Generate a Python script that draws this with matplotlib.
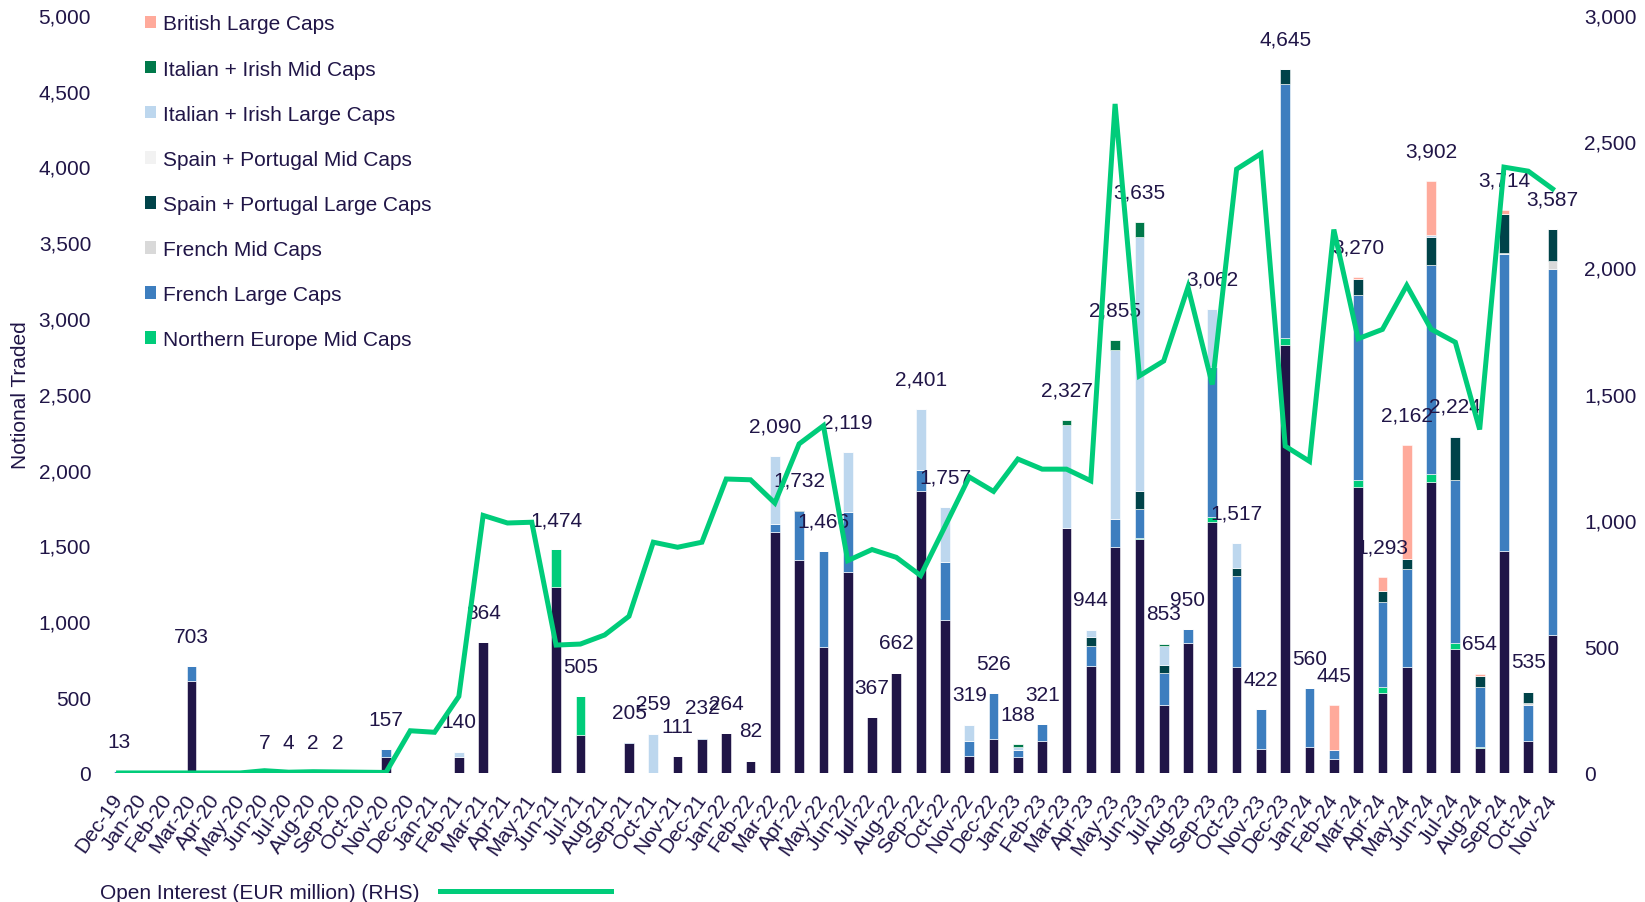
import matplotlib
matplotlib.use("Agg")
import matplotlib.pyplot as plt
from matplotlib.patches import Patch
from matplotlib.lines import Line2D
from matplotlib.ticker import FuncFormatter

plt.rcParams['font.family'] = ['Liberation Sans', 'DejaVu Sans']

months = ["Dec-19", "Jan-20", "Feb-20", "Mar-20", "Apr-20", "May-20", "Jun-20", "Jul-20", "Aug-20", "Sep-20", "Oct-20", "Nov-20",
          "Dec-20", "Jan-21", "Feb-21", "Mar-21", "Apr-21", "May-21", "Jun-21", "Jul-21", "Aug-21", "Sep-21", "Oct-21", "Nov-21",
          "Dec-21", "Jan-22", "Feb-22", "Mar-22", "Apr-22", "May-22", "Jun-22", "Jul-22", "Aug-22", "Sep-22", "Oct-22", "Nov-22",
          "Dec-22", "Jan-23", "Feb-23", "Mar-23", "Apr-23", "May-23", "Jun-23", "Jul-23", "Aug-23", "Sep-23", "Oct-23", "Nov-23",
          "Dec-23", "Jan-24", "Feb-24", "Mar-24", "Apr-24", "May-24", "Jun-24", "Jul-24", "Aug-24", "Sep-24", "Oct-24", "Nov-24"]

# Stacked series (EUR million notional traded), bottom to top
northern_europe_large = [0, 0, 0, 604, 0, 0, 7, 4, 2, 2, 0, 103,
                         0, 0, 103, 864, 0, 0, 1229, 250, 0, 200, 0, 111,
                         225, 264, 82, 1590, 1405, 833, 1328, 367, 662, 1860, 1010, 110,
                         225, 105, 210, 1615, 707, 1492, 1543, 451, 856, 1656, 702, 158,
                         2825, 169, 92, 1887, 528, 699, 1917, 818, 165, 1462, 209, 908]
northern_europe_mid = [0, 0, 0, 0, 0, 0, 0, 0, 0, 0, 0, 0,
                       0, 0, 0, 0, 0, 0, 245, 255, 0, 0, 0, 0,
                       0, 0, 0, 0, 0, 0, 0, 0, 0, 0, 0, 0,
                       0, 0, 0, 0, 0, 0, 8, 0, 0, 34, 0, 0,
                       44, 0, 0, 43, 39, 0, 55, 40, 9, 0, 0, 0]
french_large = [13, 0, 0, 99, 0, 0, 0, 0, 0, 0, 0, 54,
                0, 0, 0, 0, 0, 0, 0, 0, 0, 5, 0, 0,
                7, 0, 0, 52, 320, 633, 395, 0, 0, 138, 380, 100,
                301, 45, 111, 0, 129, 185, 190, 205, 94, 985, 596, 264,
                1672, 391, 58, 1219, 559, 647, 1375, 1077, 391, 1957, 237, 2412]
french_mid = [0, 0, 0, 0, 0, 0, 0, 0, 0, 0, 0, 0,
              0, 0, 0, 0, 0, 0, 0, 0, 0, 0, 0, 0,
              0, 0, 0, 0, 0, 0, 0, 0, 0, 0, 0, 0,
              0, 0, 0, 0, 0, 0, 0, 0, 0, 0, 0, 0,
              0, 0, 0, 0, 0, 0, 0, 0, 0, 11, 16, 59]
spain_portugal_large = [0, 0, 0, 0, 0, 0, 0, 0, 0, 0, 0, 0,
                        0, 0, 0, 0, 0, 0, 0, 0, 0, 0, 0, 0,
                        0, 0, 0, 0, 7, 0, 0, 0, 0, 0, 0, 0,
                        0, 0, 0, 0, 59, 0, 121, 59, 0, 0, 54, 0,
                        104, 0, 0, 110, 77, 63, 188, 279, 72, 255, 73, 208]
spain_portugal_mid = [0, 0, 0, 0, 0, 0, 0, 0, 0, 0, 0, 0,
                      0, 0, 0, 0, 0, 0, 0, 0, 0, 0, 0, 0,
                      0, 0, 0, 0, 0, 0, 0, 0, 0, 0, 0, 0,
                      0, 0, 0, 0, 0, 0, 0, 0, 0, 0, 0, 0,
                      0, 0, 0, 0, 0, 0, 0, 0, 0, 0, 0, 0]
italian_irish_large = [0, 0, 0, 0, 0, 0, 0, 0, 0, 0, 0, 0,
                       0, 0, 37, 0, 0, 0, 0, 0, 0, 0, 259, 0,
                       0, 0, 0, 448, 0, 0, 396, 0, 0, 403, 367, 109,
                       0, 20, 0, 680, 49, 1114, 1675, 120, 0, 387, 165, 0,
                       0, 0, 0, 0, 0, 5, 14, 10, 0, 0, 0, 0]
italian_irish_mid = [0, 0, 0, 0, 0, 0, 0, 0, 0, 0, 0, 0,
                     0, 0, 0, 0, 0, 0, 0, 0, 0, 0, 0, 0,
                     0, 0, 0, 0, 0, 0, 0, 0, 0, 0, 0, 0,
                     0, 18, 0, 32, 0, 64, 98, 18, 0, 0, 0, 0,
                     0, 0, 0, 0, 0, 0, 0, 0, 0, 0, 0, 0]
british_large = [0, 0, 0, 0, 0, 0, 0, 0, 0, 0, 0, 0,
                 0, 0, 0, 0, 0, 0, 0, 0, 0, 0, 0, 0,
                 0, 0, 0, 0, 0, 0, 0, 0, 0, 0, 0, 0,
                 0, 0, 0, 0, 0, 0, 0, 0, 0, 0, 0, 0,
                 0, 0, 295, 11, 90, 748, 353, 0, 17, 29, 0, 0]

# Open interest (RHS, EUR million)
open_interest = [0, 0, 0, 0, 0, 0, 9, 3, 5, 4, 3, 2,
                 167, 161, 303, 1019, 989, 992, 506, 510, 546, 620, 913, 893,
                 913, 1163, 1160, 1068, 1302, 1374, 840, 884, 853, 781, 975, 1171,
                 1114, 1242, 1202, 1202, 1156, 2647, 1571, 1630, 1922, 1537, 2389, 2450,
                 1293, 1233, 2150, 1718, 1755, 1929, 1756, 1704, 1359, 2397, 2381, 2311]

series = [
    ("Northern Europe Large Caps", northern_europe_large, "#201547"),
    ("Northern Europe Mid Caps", northern_europe_mid, "#00CC7A"),
    ("French Large Caps", french_large, "#3D7EBF"),
    ("French Mid Caps", french_mid, "#D9D9D9"),
    ("Spain + Portugal Large Caps", spain_portugal_large, "#004349"),
    ("Spain + Portugal Mid Caps", spain_portugal_mid, "#F2F2F2"),
    ("Italian + Irish Large Caps", italian_irish_large, "#BDD7EE"),
    ("Italian + Irish Mid Caps", italian_irish_mid, "#00794A"),
    ("British Large Caps", british_large, "#FFAA9B"),
]
legend_order = ["British Large Caps", "Italian + Irish Mid Caps", "Italian + Irish Large Caps",
                "Spain + Portugal Mid Caps", "Spain + Portugal Large Caps", "French Mid Caps",
                "French Large Caps", "Northern Europe Mid Caps"]

TEXT = "#201547"
LINE = "#00CC7A"
FS = 15

fig = plt.figure(figsize=(16.45, 9.03), dpi=100)
ax = fig.add_axes([0.0647, 0.1429, 0.8865, 0.8397])
x = list(range(len(months)))

bottom = [0] * len(months)
colors = {}
for name, vals, col in series:
    ax.bar(x, vals, width=0.4, bottom=bottom, color=col, edgecolor="white", linewidth=0.4, label=name, zorder=2)
    bottom = [b + v for b, v in zip(bottom, vals)]
    colors[name] = col

totals = bottom
for i, t in enumerate(totals):
    if t > 0:
        ax.annotate(f"{t:,}", (i, t), xytext=(0, 21.5), textcoords="offset points",
                    ha="center", va="center", fontsize=FS, color=TEXT, zorder=3)

ax.set_xlim(-0.5, len(months) - 0.5)
ax.set_ylim(0, 5000)
ax.set_yticks(range(0, 5001, 500))
ax.yaxis.set_major_formatter(FuncFormatter(lambda v, p: f"{int(v):,}"))
ax.set_xticks(x)
ax.set_xticklabels(months)
plt.setp(ax.get_xticklabels(), rotation=55, ha="right", va="center", rotation_mode="anchor")
ax.tick_params(axis="x", length=0, pad=16, labelsize=FS, labelcolor=TEXT)
ax.tick_params(axis="y", length=0, pad=11, labelsize=FS, labelcolor=TEXT)
for s in ax.spines.values():
    s.set_visible(False)

fig.text(21 / 1645, 1 - 395 / 903, "Notional Traded", rotation=90, ha="center", va="center",
         fontsize=FS, color=TEXT)

ax2 = ax.twinx()
ax2.plot(x, open_interest, color=LINE, linewidth=3.6, solid_joinstyle="miter", zorder=4)
ax2.set_ylim(0, 3000)
ax2.set_yticks(range(0, 3001, 500))
ax2.yaxis.set_major_formatter(FuncFormatter(lambda v, p: f"{int(v):,}"))
ax2.tick_params(axis="y", length=0, pad=14, labelsize=FS, labelcolor=TEXT)
for s in ax2.spines.values():
    s.set_visible(False)

handles = [Patch(facecolor=colors[n], edgecolor="none") for n in legend_order]
leg1 = fig.legend(handles, legend_order, loc="upper left", bbox_to_anchor=(145 / 1645, 1 - 15.5 / 903),
                  frameon=False, fontsize=FS, handlelength=0.55, handleheight=0.55, handletextpad=0.3,
                  labelspacing=1.25, borderpad=0, borderaxespad=0)
for t in leg1.get_texts():
    t.set_color(TEXT)

leg2 = fig.legend([Line2D([0], [0], color=LINE, linewidth=3.6)], ["Open Interest (EUR million) (RHS)"],
                  loc="center left", bbox_to_anchor=(100 / 1645, 1 - 894 / 903), frameon=False,
                  fontsize=FS, markerfirst=False, handlelength=8.2, handletextpad=1.0,
                  borderpad=0, borderaxespad=0)
for t in leg2.get_texts():
    t.set_color(TEXT)

fig.savefig("out.png", dpi=100)
